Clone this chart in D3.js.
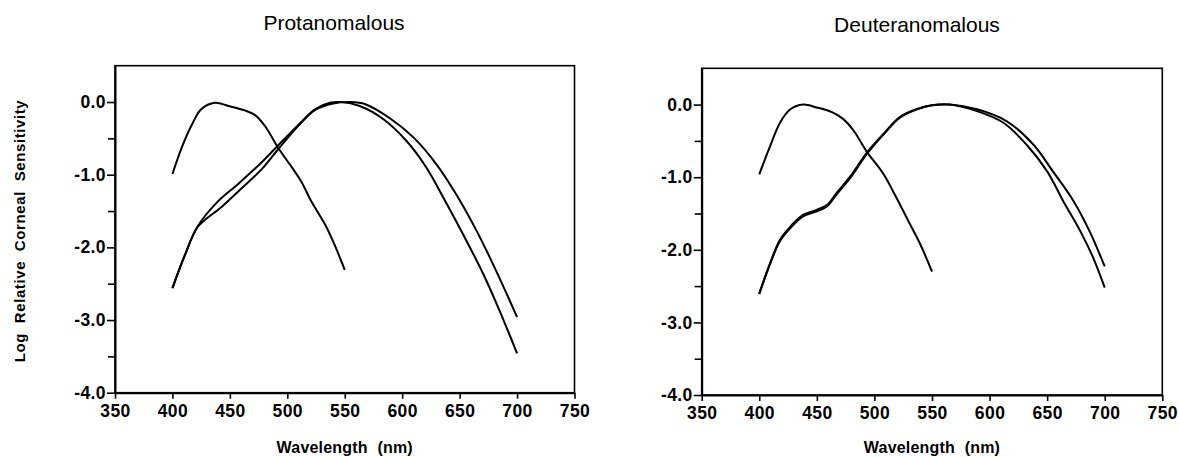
<!DOCTYPE html>
<html>
<head>
<meta charset="utf-8">
<script src="https://cdn.jsdelivr.net/npm/d3@7"></script>
<style>
  body { margin: 0; background: #fff; }
  svg { display: block; font-family: 'Liberation Sans', Arial, Helvetica, sans-serif; }
</style>
</head>
<body>
<div class="canvas"></div>
<script>
// tick values
const xTicks = [350, 400, 450, 500, 550, 600, 650, 700, 750]
const yMajorTicks = [-4, -3, -2, -1, 0]
const yMinorTicks = [-3.5, -2.5, -1.5, -0.5]

const titles = ['Protanomalous', 'Deuteranomalous']

// Protanomalous
const protSWave = [400, 408, 417, 425, 437, 449, 463, 472, 481, 492, 504, 512, 521, 533, 541, 550]
const protSValue = [-0.99, -0.63, -0.31, -0.10, -0.01, -0.055, -0.115, -0.18, -0.34, -0.63, -0.90, -1.09, -1.37, -1.69, -1.96, -2.31]
const protAWave = [400, 411, 422, 440, 457, 475, 490, 510, 524, 537, 547, 563, 584, 604, 621, 636, 653, 671, 685, 700]
const protAValue = [-2.56, -2.10, -1.71, -1.36, -1.13, -0.87, -0.63, -0.31, -0.10, -0.01, 0, -0.055, -0.24, -0.54, -0.90, -1.32, -1.82, -2.38, -2.88, -3.46]
const protBWave = [400, 411, 422, 443, 460, 478, 492, 510, 524, 540, 555, 568, 589, 610, 630, 647, 665, 682, 700]
const protBValue = [-2.56, -2.10, -1.72, -1.44, -1.19, -0.92, -0.65, -0.32, -0.11, -0.02, 0, -0.03, -0.22, -0.49, -0.86, -1.27, -1.78, -2.33, -2.96]

// Deuteranomalous
const deutSWave = [400, 409, 418, 427, 438, 450, 464, 473, 482, 493, 508, 519, 531, 540, 550]
const deutSValue = [-0.96, -0.59, -0.25, -0.065, 0, -0.04, -0.11, -0.20, -0.36, -0.64, -0.96, -1.28, -1.65, -1.93, -2.30]
const deutAWave = [400, 409, 418, 427, 438, 450, 459, 467, 479, 493, 508, 522, 537, 550, 565, 589, 612, 632, 650, 664, 679, 690, 700]
const deutAValue = [-2.61, -2.21, -1.88, -1.70, -1.54, -1.47, -1.40, -1.24, -1.01, -0.69, -0.41, -0.18, -0.065, -0.01, 0, -0.09, -0.25, -0.55, -0.92, -1.33, -1.75, -2.11, -2.52]
const deutBWave = [400, 409, 418, 427, 438, 450, 459, 467, 479, 493, 508, 522, 537, 550, 565, 589, 615, 638, 655, 673, 687, 700]
const deutBValue = [-2.60, -2.20, -1.86, -1.68, -1.52, -1.45, -1.38, -1.22, -0.99, -0.67, -0.40, -0.17, -0.06, -0.01, 0, -0.065, -0.23, -0.55, -0.92, -1.33, -1.75, -2.23]

const toPoints = (wave, value) => wave.map((w, i) => ({w, v: value[i]}))

const panels = [
  {title: titles[0], box: {left: 115, right: 574.5, top: 65.7, bottom: 392.7}, titleX: 334, titleY: 30,
    curves: [toPoints(protSWave, protSValue), toPoints(protAWave, protAValue), toPoints(protBWave, protBValue)]},
  {title: titles[1], box: {left: 701.7, right: 1162.3, top: 68.3, bottom: 395}, titleX: 917, titleY: 32,
    curves: [toPoints(deutSWave, deutSValue), toPoints(deutAWave, deutAValue), toPoints(deutBWave, deutBValue)]}
]

const svg = d3.select('.canvas')
  .append('svg')
  .attr('width', 1178)
  .attr('height', 457)

panels.forEach(panel => {
  const {left, right, top, bottom} = panel.box
  const x = d3.scaleLinear().domain([350, 750]).range([left, right])
  const y = d3.scaleLinear().domain([-4, 0.5]).range([bottom, top])

  svg.append('rect')
    .attr('x', left)
    .attr('y', top)
    .attr('width', right - left)
    .attr('height', bottom - top)
    .attr('fill', 'none')
    .attr('stroke', '#000')
    .attr('stroke-width', 1.6)

  const yMajor = svg.append('g')
    .attr('transform', `translate(${left},0)`)
    .call(d3.axisLeft(y)
      .tickValues(yMajorTicks)
      .tickSize(8)
      .tickSizeOuter(0)
      .tickPadding(1)
      .tickFormat(d => d.toFixed(1)))
  svg.append('g')
    .attr('transform', `translate(${left},0)`)
    .call(d3.axisLeft(y)
      .tickValues(yMinorTicks)
      .tickSize(7)
      .tickSizeOuter(0)
      .tickFormat(''))
    .select('.domain').remove()

  const xAxis = svg.append('g')
    .attr('transform', `translate(0,${bottom})`)
    .call(d3.axisBottom(x)
      .tickValues(xTicks)
      .tickSize(6)
      .tickSizeOuter(0)
      .tickPadding(6)
      .tickFormat(d3.format('d')))

  svg.selectAll('.tick line')
    .attr('stroke-width', 1.6)
  svg.selectAll('.domain')
    .attr('stroke-width', 2)
  ;[yMajor, xAxis].forEach(axis => axis.selectAll('text')
    .attr('font-size', 17.5)
    .attr('font-weight', 'bold')
    .attr('letter-spacing', 0.4)
    .attr('fill', '#000'))

  const line = d3.line()
    .x(d => x(d.w))
    .y(d => y(d.v))
    .curve(d3.curveCatmullRom.alpha(0.5))

  svg.append('g')
    .selectAll('path')
    .data(panel.curves)
    .join('path')
    .attr('d', line)
    .attr('fill', 'none')
    .attr('stroke', '#000')
    .attr('stroke-width', 2)

  svg.append('text')
    .attr('x', panel.titleX)
    .attr('y', panel.titleY)
    .attr('text-anchor', 'middle')
    .attr('font-size', 21)
    .text(panel.title)

  svg.append('text')
    .attr('x', (left + right) / 2)
    .attr('y', 453)
    .attr('text-anchor', 'middle')
    .attr('font-size', 16)
    .attr('font-weight', 'bold')
    .attr('word-spacing', 5)
    .attr('letter-spacing', 0.2)
    .text('Wavelength (nm)')
})

svg.append('text')
  .attr('transform', 'translate(25,231) rotate(-90)')
  .attr('text-anchor', 'middle')
  .attr('font-size', 15)
  .attr('font-weight', 'bold')
  .attr('word-spacing', 5)
  .attr('letter-spacing', 0.6)
  .text('Log Relative Corneal Sensitivity')
</script>
</body>
</html>
